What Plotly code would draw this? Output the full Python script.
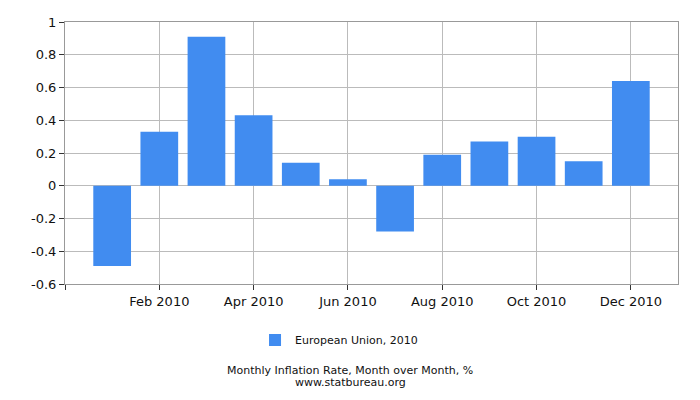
import plotly.graph_objects as go

months = ["Jan 2010", "Feb 2010", "Mar 2010", "Apr 2010", "May 2010", "Jun 2010",
          "Jul 2010", "Aug 2010", "Sep 2010", "Oct 2010", "Nov 2010", "Dec 2010"]
values = [-0.49, 0.33, 0.91, 0.43, 0.14, 0.04, -0.28, 0.19, 0.27, 0.30, 0.15, 0.64]
tick_idx = [-1, 1, 3, 5, 7, 9, 11]
tick_text = ["", "Feb 2010", "Apr 2010", "Jun 2010", "Aug 2010", "Oct 2010", "Dec 2010"]
y_ticks = [-0.6, -0.4, -0.2, 0, 0.2, 0.4, 0.6, 0.8, 1]
y_text = ["-0.6", "-0.4", "-0.2", "0", "0.2", "0.4", "0.6", "0.8", "1"]

x = list(range(len(months)))

fig = go.Figure()
fig.add_trace(go.Bar(
    x=x, y=values, width=0.8,
    marker=dict(color="#418cf0", line=dict(width=0)),
    name="European Union, 2010",
    hovertext=months,
))

fig.update_layout(
    width=700, height=400,
    margin=dict(l=57, r=30, t=14, b=124),
    paper_bgcolor="white", plot_bgcolor="white",
    font=dict(family="DejaVu Sans", size=13, color="#111"),
    showlegend=True,
    legend=dict(orientation="h", x=0.31, xanchor="left", y=-0.2137, yanchor="middle",
                font=dict(size=11, color="#111")),
    bargap=0.2,
)
fig.update_xaxes(
    range=[-1, 12], tickvals=tick_idx, ticktext=tick_text,
    showgrid=True, gridcolor="#bbbbbb", gridwidth=1,
    showline=True, linecolor="#999999", linewidth=1, mirror=True,
    ticks="outside", ticklen=5, tickcolor="#333", zeroline=False, automargin=False,
)
fig.update_yaxes(
    range=[-0.6, 1], tickvals=y_ticks, ticktext=y_text,
    showgrid=True, gridcolor="#bbbbbb", gridwidth=1,
    showline=True, linecolor="#999999", linewidth=1, mirror=True,
    ticks="outside", ticklen=5, tickcolor="#333", zeroline=False, automargin=False,
)
fig.add_annotation(text="Monthly Inflation Rate, Month over Month, %",
                   xref="paper", yref="paper", x=(342 - 57) / 613, y=-(362 - 276) / 262,
                   yanchor="middle", showarrow=False, font=dict(size=11, color="#111"))
fig.add_annotation(text="www.statbureau.org",
                   xref="paper", yref="paper", x=(342 - 57) / 613, y=-(374 - 276) / 262,
                   yanchor="middle", showarrow=False, font=dict(size=11, color="#111"))

fig.write_html("out.html")
